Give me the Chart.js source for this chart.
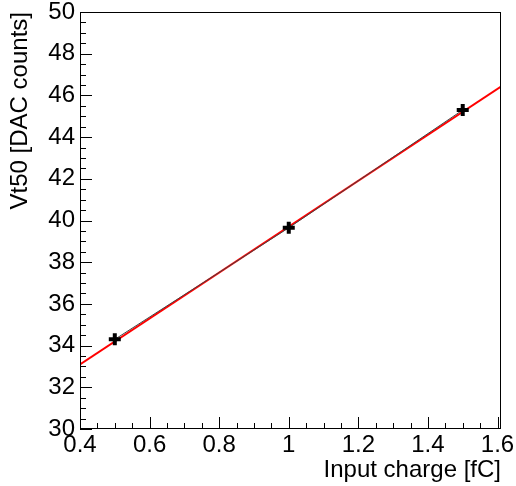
<html>

<head>
    <title>Vt50 vs input charge</title>
    <script src="https://cdn.jsdelivr.net/npm/chart.js@4"></script>
    <style>
        body { margin: 0; background: #fff; }
    </style>
</head>

<body>
    <canvas id="vtChart" width="516" height="486"></canvas>
    <script>
        // measured points
        var charge = [0.5, 1.0, 1.5];
        var vt50 = [34.3, 39.65, 45.3];
        // fitted straight line, ends read at the frame edges
        var fitCharge = [0.4, 1.61];
        var fitVt50 = [33.1, 46.42];

        var xMin = 0.4, xMax = 1.61, xStep = 0.2;
        var yMin = 30, yMax = 50, yStep = 2;

        var font = { family: "'Liberation Sans', Arial, sans-serif", size: 24 };

        // frame + inward ticks drawn the ROOT way
        var framePlugin = {
            id: 'frame',
            afterDatasetsDraw: function(chart) {
                var ctx = chart.ctx;
                var a = chart.chartArea;
                var xs = chart.scales.x, ys = chart.scales.y;
                ctx.save();
                ctx.strokeStyle = '#000';
                ctx.lineWidth = 1;
                ctx.strokeRect(Math.round(a.left) + 0.5, Math.round(a.top) + 0.5,
                    Math.round(a.right - a.left) - 1, Math.round(a.bottom - a.top) - 1);
                ctx.beginPath();
                for (var i = 0; ; i++) {
                    var v = xMin + i * xStep / 4;
                    if (v > xMax + 1e-9) break;
                    var px = Math.round(xs.getPixelForValue(v)) + 0.5;
                    var len = (i % 4 == 0) ? 12 : 6;
                    ctx.moveTo(px, a.bottom);
                    ctx.lineTo(px, a.bottom - len);
                }
                for (var j = 0; ; j++) {
                    var w = yMin + j * yStep / 4;
                    if (w > yMax + 1e-9) break;
                    var py = Math.round(ys.getPixelForValue(w)) + 0.5;
                    var len2 = (j % 4 == 0) ? 12 : 6;
                    ctx.moveTo(a.left, py);
                    ctx.lineTo(a.left + len2, py);
                }
                ctx.stroke();
                ctx.restore();
            }
        };

        var ctx = document.getElementById("vtChart");
        var vtChart = new Chart(ctx, {
            type: 'scatter',
            data: {
                datasets: [{
                    label: 'Fit',
                    data: fitCharge.map(function(x, i) { return { x: x, y: fitVt50[i] }; }),
                    showLine: true,
                    borderColor: '#ff0000',
                    borderWidth: 2,
                    pointRadius: 0,
                    order: 2
                }, {
                    label: 'Vt50',
                    data: charge.map(function(x, i) { return { x: x, y: vt50[i] }; }),
                    showLine: true,
                    borderColor: '#444',
                    backgroundColor: '#000',
                    borderWidth: 1,
                    pointStyle: 'cross',
                    pointRadius: 6,
                    pointBorderColor: '#000',
                    pointBorderWidth: 4,
                    order: 1
                }]
            },
            plugins: [framePlugin],
            options: {
                responsive: false,
                animation: false,
                devicePixelRatio: 1,
                layout: { padding: { top: 12, right: 15, left: 0, bottom: 0 } },
                plugins: {
                    legend: { display: false },
                    tooltip: { enabled: false }
                },
                scales: {
                    x: {
                        type: 'linear',
                        min: xMin,
                        max: xMax,
                        grid: { display: false, drawTicks: false },
                        border: { display: false },
                        ticks: {
                            stepSize: xStep,
                            includeBounds: false,
                            maxRotation: 0,
                            autoSkip: false,
                            padding: 2,
                            color: '#000',
                            font: font,
                            callback: function(v) { return (+v.toFixed(1)).toString(); }
                        },
                        title: {
                            display: true,
                            text: 'Input charge [fC]',
                            align: 'end',
                            color: '#000',
                            font: font,
                            padding: { top: 0, bottom: 1 }
                        },
                        afterFit: function(s) {
                            s.height = 57;
                            s.paddingLeft = 0;
                            s.paddingRight = 0;
                        }
                    },
                    y: {
                        min: yMin,
                        max: yMax,
                        grid: { display: false, drawTicks: false },
                        border: { display: false },
                        ticks: {
                            stepSize: yStep,
                            autoSkip: false,
                            padding: 5,
                            color: '#000',
                            font: font
                        },
                        title: {
                            display: true,
                            text: 'Vt50 [DAC counts]',
                            align: 'end',
                            color: '#000',
                            font: font,
                            padding: { top: 6, bottom: 0 }
                        },
                        afterFit: function(s) {
                            s.width = 80;
                            s.paddingTop = 0;
                            s.paddingBottom = 0;
                        }
                    }
                }
            }
        });
    </script>
</body>

</html>
